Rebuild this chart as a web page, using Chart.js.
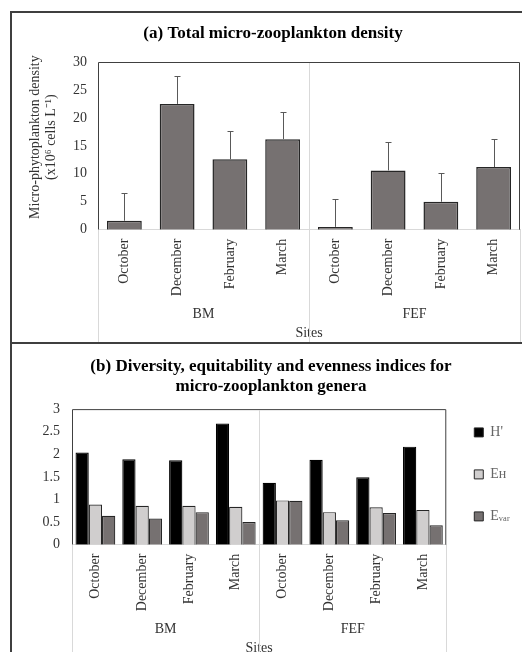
<!DOCTYPE html>
<html>
<head>
<meta charset="utf-8">
<script src="https://cdn.jsdelivr.net/npm/chart.js@4/dist/chart.umd.min.js"></script>
<style>
  html,body{margin:0;padding:0;background:#fff;overflow:hidden;width:522px;height:652px;}
  canvas{position:absolute;}
  #cA{left:26px;top:13px;}
  #cB{left:5px;top:344px;}
  .frame{position:absolute;left:10px;top:11px;width:600px;height:700px;border:2px solid #3f3f3f;box-sizing:border-box;}
  .divider{position:absolute;left:10px;top:342px;width:600px;height:2px;background:#3f3f3f;}
</style>
</head>
<body>
<canvas id="cA" width="520" height="329"></canvas>
<canvas id="cB" width="522" height="313"></canvas>
<div class="frame"></div>
<div class="divider"></div>
<script>
// ===== data =====
const months=['October','December','February','March','October','December','February','March'];
const sites=['BM','FEF'];
const densityMean=[1.6,22.5,12.6,16.2,0.5,10.6,5.0,11.2];
const densityErr=[5.0,5.0,5.0,4.9,4.9,5.0,5.1,5.0];
const densityTicks={min:0,max:30,step:5};
const hDiv=[2.04,1.89,1.87,2.68,1.37,1.88,1.49,2.17];
const eH=[0.89,0.86,0.86,0.84,0.98,0.72,0.83,0.77];
const eVar=[0.64,0.58,0.72,0.50,0.97,0.54,0.70,0.43];
const indexTicks={min:0,max:3,step:0.5};
const indexNames=["H'",'Eʜ','Eᵥₐᵣ'];

// ===== look =====
const SERIF='"Liberation Serif","Times New Roman",serif';
const TXT='#333';
const SEP='#d9d9d9';
const FRAME='#404040';
const NONE='rgba(0,0,0,0)';

// plot frame: top/left/right dark lines
const plotFrame={id:'plotFrame',afterDatasetsDraw(chart){
  const {ctx,chartArea:a}=chart;
  ctx.save(); ctx.strokeStyle=FRAME; ctx.lineWidth=1;
  ctx.beginPath();
  ctx.moveTo(a.left+0.5,a.bottom); ctx.lineTo(a.left+0.5,a.top+0.5);
  ctx.lineTo(a.right-0.5,a.top+0.5); ctx.lineTo(a.right-0.5,a.bottom);
  ctx.stroke(); ctx.restore();
}};

// group separators of the two-level category axis (every 4 months)
const groupLines={id:'groupLines',afterDraw(chart){
  const {ctx,chartArea:a}=chart, x=chart.scales.x, x2=chart.scales.x2;
  ctx.save(); ctx.strokeStyle=SEP; ctx.lineWidth=1;
  [0,4,8].forEach(b=>{
    const px=Math.round(x.getPixelForValue(b-0.5))+0.5;
    const top=(b===0||b===months.length)?a.bottom:a.top+1;
    ctx.beginPath(); ctx.moveTo(px,top); ctx.lineTo(px,x2.bottom); ctx.stroke();
  });
  ctx.restore();
}};

// upward error bars with a small cap
const errBars={id:'errBars',afterDatasetsDraw(chart){
  const {ctx}=chart, y=chart.scales.y, meta=chart.getDatasetMeta(0);
  ctx.save(); ctx.strokeStyle='#595959'; ctx.lineWidth=1;
  meta.data.forEach((bar,i)=>{
    const x=Math.round(bar.x)+0.5, y0=y.getPixelForValue(densityMean[i]), y1=Math.round(y.getPixelForValue(densityMean[i]+densityErr[i]))+0.5;
    ctx.beginPath(); ctx.moveTo(x,y0); ctx.lineTo(x,y1); ctx.moveTo(x-3,y1); ctx.lineTo(x+3,y1); ctx.stroke();
  });
  ctx.restore();
}};

function xScales(){
  return {
    x:{type:'category',position:'bottom',offset:true,
       grid:{offset:true,drawOnChartArea:false,color:NONE,tickLength:9},
       border:{display:true,color:SEP},
       ticks:{autoSkip:false,minRotation:90,maxRotation:90,padding:0,color:TXT,font:{family:SERIF,size:14}}},
    x2:{type:'category',position:'bottom',labels:sites,offset:true,
       grid:{offset:true,drawOnChartArea:false,color:NONE,tickLength:9},
       border:{display:false},
       ticks:{padding:0.6,color:TXT,font:{family:SERIF,size:14}},
       title:{display:true,text:'Sites',color:TXT,font:{family:SERIF,size:14},padding:{top:2,bottom:0}}}
  };
}

Chart.defaults.animation=false;

new Chart(document.getElementById('cA'),{
  type:'bar',
  data:{labels:months,datasets:[{label:'density',data:densityMean,xAxisID:'x',
    backgroundColor:'#767171',borderColor:'#262626',borderWidth:1.5,
    barPercentage:0.66,categoryPercentage:1}]},
  options:{responsive:false,
    layout:{padding:{left:0,right:26,top:0,bottom:0}},
    plugins:{legend:{display:false},tooltip:{enabled:false},
      title:{display:true,text:'(a) Total micro-zooplankton density',color:'#000',
        font:{family:SERIF,size:17,weight:'bold'},padding:{top:10.8,bottom:17.8}}},
    scales:{...xScales(),
      y:{min:densityTicks.min,max:densityTicks.max,
         ticks:{stepSize:densityTicks.step,padding:11,color:TXT,font:{family:SERIF,size:14}},
         grid:{display:false,drawTicks:false},border:{display:false},
         title:{display:true,text:['     Micro-phytoplankton density','     (x10⁶ cells L⁻¹)'],
           color:TXT,font:{family:SERIF,size:14},padding:{top:0.6,bottom:1.8}}}}
  },
  plugins:[plotFrame,groupLines,errBars]
});

const barStyle={borderColor:'#262626',borderWidth:1.2,barPercentage:1,categoryPercentage:0.85,xAxisID:'x'};
new Chart(document.getElementById('cB'),{
  type:'bar',
  data:{labels:months,datasets:[
    {label:indexNames[0],data:hDiv,backgroundColor:'#000000',...barStyle,borderColor:'#000'},
    {label:indexNames[1],data:eH,backgroundColor:'#d0cece',...barStyle},
    {label:indexNames[2],data:eVar,backgroundColor:'#767171',...barStyle}
  ]},
  options:{responsive:false,
    layout:{padding:{left:25.5,right:7,top:0,bottom:0}},
    plugins:{tooltip:{enabled:false},
      title:{display:true,text:['(b) Diversity, equitability and evenness indices for  ','micro-zooplankton genera  '],
        color:'#000',font:{family:SERIF,size:17,weight:'bold',lineHeight:1.18},padding:{top:13,bottom:12}},
      legend:{position:'right',align:'start',
        title:{display:true,text:' ',font:{family:SERIF,size:14},padding:18.3},
        labels:{boxWidth:9,boxHeight:9,padding:28,color:TXT,font:{family:SERIF,size:14},
          generateLabels(chart){
            return chart.data.datasets.map((d,i)=>({text:d.label,fillStyle:d.backgroundColor,strokeStyle:'#262626',lineWidth:1,datasetIndex:i,hidden:false}));
          }}}},
    scales:{...xScales(),
      y:{min:indexTicks.min,max:indexTicks.max,
         ticks:{stepSize:indexTicks.step,padding:12,color:TXT,font:{family:SERIF,size:14},callback:v=>String(v)},
         grid:{display:false,drawTicks:false},border:{display:false}}}
  },
  plugins:[plotFrame,groupLines]
});
</script>
</body>
</html>
